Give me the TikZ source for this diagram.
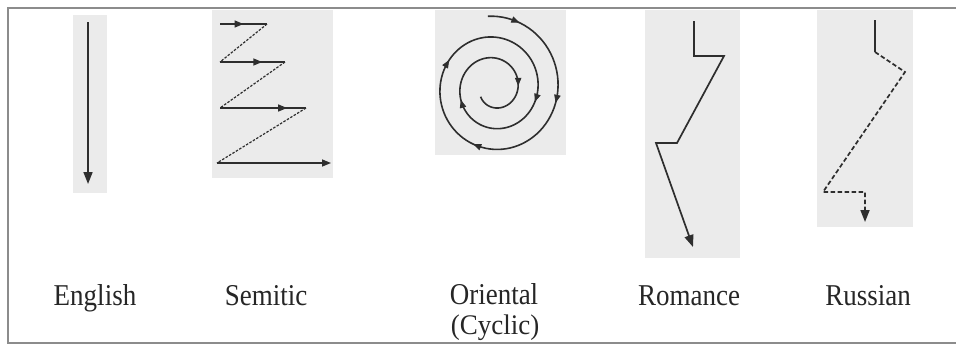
\documentclass[tikz,border=0pt]{standalone}
\usepackage{fontspec}
\setmainfont{Liberation Serif}
\usetikzlibrary{arrows.meta,decorations.markings}
\begin{document}
\begin{tikzpicture}[x=1pt,y=-1pt,
  ln/.style={draw=black!82, line width=1.7pt},
  bigtip/.style={-{Triangle[length=12pt,width=9pt]}},
  smalltip/.style={-{Triangle[length=9pt,width=7pt]}},
  midarrow/.style={postaction={decorate,decoration={markings,
      mark=at position #1 with {\arrow{Triangle[length=9pt,width=7pt]}}}}},
  dsh/.style={dash pattern=on 2.5pt off 1.5pt},
  bigdsh/.style={dash pattern=on 4.5pt off 2.5pt},
  bg/.style={fill=black!8, draw=none},
  lab/.style={font=\fontsize{27}{30}\selectfont, text=black!85, anchor=base, inner sep=0pt}]
\useasboundingbox (0,0) rectangle (956,349);
% frame
\draw[black!45, line width=1.5pt] (956,8) -- (8,8) -- (8,343) -- (956,343);
% grey backgrounds
\fill[bg] (73,15) rectangle (107,193);
\fill[bg] (212,10) rectangle (333,178);
\fill[bg] (435,10) rectangle (566,155);
\fill[bg] (645,10) rectangle (740,258);
\fill[bg] (817,10) rectangle (913,227);
% English
\coordinate (e1) at (88,22);
\coordinate (e2) at (88,184);
\draw[ln,bigtip] (e1) -- (e2);
% Semitic
\coordinate (s1a) at (220,24); \coordinate (s1b) at (267,24);
\coordinate (s2a) at (220,62); \coordinate (s2b) at (285,62);
\coordinate (s3a) at (220,108); \coordinate (s3b) at (306,108);
\coordinate (s4a) at (217,163); \coordinate (s4b) at (331,163);
\draw[ln,line width=1.5pt,midarrow=0.5] (s1a) -- (s1b);
\draw[ln,line width=1.5pt,midarrow=0.65] (s2a) -- (s2b);
\draw[ln,line width=1.5pt,midarrow=0.78] (s3a) -- (s3b);
\draw[ln,line width=1.5pt,smalltip] (s4a) -- (s4b);
\draw[ln,dsh,line width=1.2pt] (s1b) -- (s2a);
\draw[ln,dsh,line width=1.2pt] (s2b) -- (s3a);
\draw[ln,dsh,line width=1.2pt] (s3b) -- (s4a);
% Oriental spiral
\begin{scope}[shift={(494,88)}]
  \draw[ln,line width=1.6pt]
    plot[domain=265:1228, samples=240, variable=\t]
    ({(64-(\t-360)/18)*cos(\t)}, {1.04*(64-(\t-360)/18)*sin(\t)});
  \foreach \a in {292,373,471,571,738,881,1075} {
    \pgfmathsetmacro{\b}{\a-5}
    \draw[draw=black!82, line width=0.8pt, -{Triangle[length=8pt,width=6.5pt]}]
      ({(64-(\b-360)/18)*cos(\b)}, {1.04*(64-(\b-360)/18)*sin(\b)}) --
      ({(64-(\a-360)/18)*cos(\a)}, {1.04*(64-(\a-360)/18)*sin(\a)});
  }
\end{scope}
% Romance
\coordinate (r1) at (694,21); \coordinate (r2) at (694,56);
\coordinate (r3) at (724,56); \coordinate (r4) at (677,143);
\coordinate (r5) at (656,143); \coordinate (r6) at (693,247);
\draw[ln,bigtip,line join=miter] (r1) -- (r2) -- (r3) -- (r4) -- (r5) -- (r6);
% Russian
\coordinate (u1) at (875,20); \coordinate (u2) at (875,52);
\coordinate (u3) at (905,72); \coordinate (u4) at (823,192);
\coordinate (u5) at (865,192); \coordinate (u6) at (865,222);
\draw[ln] (u1) -- (u2);
\draw[ln,bigdsh] (u2) -- (u3) -- (u4) -- (u5) -- ([yshift=10pt]u6);
\draw[ln,bigtip] ([yshift=11pt]u6) -- (u6);
% labels
\node[lab] (english) at (95,305) {\scalebox{1}[1.12]{English}};
\node[lab] (semitic) at (266,305) {\scalebox{1}[1.12]{Semitic}};
\node[lab] (oriental) at (494,304) {\scalebox{1}[1.12]{Oriental}};
\node[lab] (cyclic) at (495,334) {\scalebox{1}[1.05]{(Cyclic)}};
\node[lab] (romance) at (689,305) {\scalebox{1}[1.12]{Romance}};
\node[lab] (russian) at (868,305) {\scalebox{1}[1.12]{Russian}};
\end{tikzpicture}
\end{document}
